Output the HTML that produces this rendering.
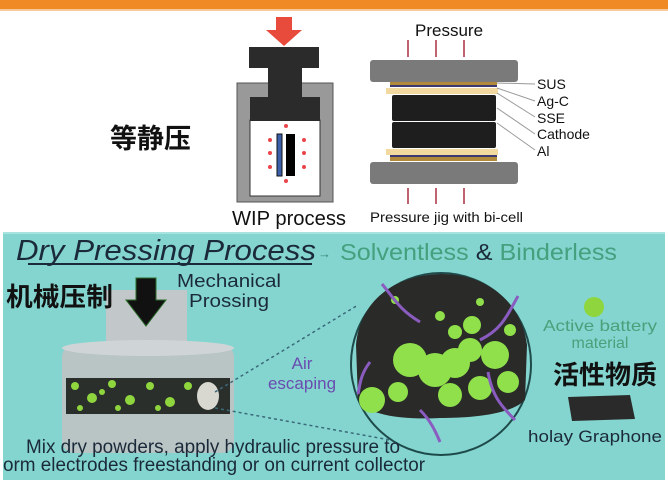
<!DOCTYPE html>
<html><head><meta charset="utf-8"><style>
body{margin:0;width:668px;height:482px;overflow:hidden;background:#fff}
svg{display:block}
text{font-family:"Liberation Sans","Noto Sans CJK SC",sans-serif}
</style></head><body>
<svg width="668" height="482" viewBox="0 0 668 482" xmlns="http://www.w3.org/2000/svg">
<rect x="0" y="0" width="668" height="9" fill="#f08a24"/>
<rect x="0" y="9" width="668" height="2" fill="#f7c89a"/>
<text x="110" y="148" font-size="27" font-weight="bold" fill="#111">等静压</text>
<!-- WIP -->
<polygon points="276,17 292,17 292,30 302,30 284,46 266,30 276,30" fill="#e84a3c"/>
<rect x="237" y="83" width="96" height="119" fill="#999" stroke="#555" stroke-width="1"/>
<rect x="250" y="120" width="70" height="76" fill="#fff" stroke="#333" stroke-width="1"/>
<rect x="249" y="47" width="70" height="21" fill="#2b2b2b"/>
<rect x="268" y="68" width="34" height="30" fill="#2b2b2b"/>
<rect x="250" y="97" width="70" height="24" fill="#2b2b2b"/>
<rect x="277" y="134" width="5" height="42" fill="#3b5fa8" stroke="#111"/>
<rect x="286" y="134" width="9" height="42" fill="#000"/>
<g fill="#e8464a"><circle cx="270" cy="140" r="2"/><circle cx="270" cy="153" r="2"/><circle cx="270" cy="167" r="2"/><circle cx="304" cy="140" r="2"/><circle cx="304" cy="153" r="2"/><circle cx="304" cy="167" r="2"/><circle cx="286" cy="126" r="2"/><circle cx="286" cy="181" r="2"/></g>
<text x="232" y="225" font-size="20" fill="#111" textLength="114" lengthAdjust="spacingAndGlyphs">WIP process</text>
<!-- jig -->
<text x="415" y="36" font-size="17" fill="#111">Pressure</text>
<g stroke="#a83040" stroke-width="1.5">
<line x1="408" y1="40" x2="408" y2="57"/><line x1="436" y1="40" x2="436" y2="57"/><line x1="464" y1="40" x2="464" y2="57"/>
<line x1="408" y1="204" x2="408" y2="188"/><line x1="436" y1="204" x2="436" y2="188"/><line x1="464" y1="204" x2="464" y2="188"/>
</g>
<rect x="370" y="60" width="148" height="22" rx="3" fill="#7a7a7a"/>
<rect x="370" y="162" width="148" height="22" rx="3" fill="#7a7a7a"/>
<rect x="390" y="82" width="107" height="3" fill="#b08a3a"/>
<rect x="390" y="85" width="107" height="2" fill="#3a3a70"/>
<rect x="386" y="88" width="112" height="6" fill="#f1d9a0"/>
<rect x="392" y="95" width="104" height="26" rx="2" fill="#1e1e1e"/>
<rect x="392" y="122" width="104" height="26" rx="2" fill="#1e1e1e"/>
<rect x="386" y="149" width="112" height="6" fill="#f1d9a0"/>
<rect x="390" y="155" width="107" height="2" fill="#3a3a70"/>
<rect x="390" y="157" width="107" height="4" fill="#b08a3a"/>
<g stroke="#999" stroke-width="1">
<line x1="497" y1="83" x2="535" y2="84"/><line x1="497" y1="88" x2="535" y2="101"/><line x1="497" y1="93" x2="535" y2="117"/><line x1="497" y1="108" x2="535" y2="134"/><line x1="497" y1="123" x2="535" y2="150"/>
</g>
<g font-size="14" fill="#111"><text x="537" y="89">SUS</text><text x="537" y="106">Ag-C</text><text x="537" y="123">SSE</text><text x="537" y="139">Cathode</text><text x="537" y="156">Al</text></g>
<text x="370" y="222" font-size="14" fill="#111" textLength="153" lengthAdjust="spacingAndGlyphs">Pressure jig with bi-cell</text>
<!-- bottom teal -->
<rect x="3" y="232" width="662" height="248" fill="#84d5d0"/>
<rect x="3" y="232" width="662" height="2" fill="#a8e3df"/>
<text x="16" y="260" font-size="29" font-style="italic" fill="#1b2a3a" textLength="300" lengthAdjust="spacingAndGlyphs">Dry Pressing Process</text>
<line x1="28" y1="264" x2="312" y2="264" stroke="#1b2a3a" stroke-width="2"/>
<text x="318" y="258" font-size="13" fill="#3a8a7a">→</text>
<text x="340" y="260" font-size="23" fill="#45a07e" textLength="277" lengthAdjust="spacingAndGlyphs">Solventless <tspan fill="#1b2a3a">&amp;</tspan> Binderless</text>
<!-- press -->
<rect x="106" y="290" width="81" height="60" fill="#c2c8c9"/>
<rect x="62" y="345" width="172" height="108" rx="12" fill="#b9c4c4"/>
<ellipse cx="148" cy="348" rx="86" ry="8" fill="#cfd5d6"/>
<rect x="66" y="378" width="164" height="36" fill="#2b2f2c"/>
<g fill="#8fd63e">
<circle cx="75" cy="386" r="4"/><circle cx="92" cy="398" r="5"/><circle cx="112" cy="384" r="4"/><circle cx="130" cy="400" r="5"/><circle cx="150" cy="386" r="4"/><circle cx="170" cy="402" r="5"/><circle cx="188" cy="386" r="4"/><circle cx="80" cy="408" r="3"/><circle cx="118" cy="408" r="3"/><circle cx="158" cy="408" r="3"/><circle cx="102" cy="392" r="3"/></g>
<ellipse cx="208" cy="396" rx="11" ry="14" fill="#d8d8d0"/>
<polygon points="136,278 156,278 156,300 166,300 146,326 126,300 136,300" fill="#111" stroke="#2a6a2a"/>
<text x="6" y="306" font-size="26" font-weight="bold" fill="#111" textLength="107" lengthAdjust="spacingAndGlyphs">机械压制</text>
<text x="177" y="287" font-size="18" fill="#1b2a3a" textLength="104" lengthAdjust="spacingAndGlyphs">Mechanical</text>
<text x="189" y="307" font-size="18" fill="#1b2a3a" textLength="80" lengthAdjust="spacingAndGlyphs">Prossing</text>
<g stroke="#3a6a7a" stroke-width="1.5" stroke-dasharray="3,3"><line x1="215" y1="392" x2="358" y2="305"/><line x1="215" y1="408" x2="390" y2="440"/></g>
<!-- circle -->
<ellipse cx="441" cy="364" rx="90" ry="91" fill="none" stroke="#1e4a4a" stroke-width="2"/>
<path d="M356,345 C360,300 395,275 441,274 C490,274 522,305 527,345 L525,400 C510,415 470,418 440,418 C400,420 368,415 358,400 Z" fill="#2a2a28"/>
<g fill="#8fe04a">
<circle cx="410" cy="360" r="17"/><circle cx="435" cy="370" r="17"/><circle cx="455" cy="363" r="15"/><circle cx="470" cy="350" r="12"/><circle cx="495" cy="355" r="14"/><circle cx="372" cy="400" r="13"/><circle cx="450" cy="395" r="12"/><circle cx="480" cy="388" r="12"/><circle cx="508" cy="382" r="11"/><circle cx="398" cy="392" r="10"/><circle cx="472" cy="325" r="9"/><circle cx="455" cy="332" r="7"/><circle cx="440" cy="316" r="5"/><circle cx="395" cy="300" r="4"/><circle cx="480" cy="302" r="4"/><circle cx="510" cy="330" r="6"/></g>
<g stroke="#8a5cc0" stroke-width="3" fill="none">
<path d="M382,284 C395,300 400,310 420,322"/><path d="M518,296 C505,320 500,330 480,340"/><path d="M370,362 C360,375 360,385 358,394"/><path d="M420,410 C430,420 435,430 440,442"/><path d="M488,372 C492,395 500,405 515,420"/></g>
<text x="302" y="369" font-size="17" fill="#6a4cb0" text-anchor="middle">Air</text>
<text x="302" y="389" font-size="17" fill="#6a4cb0" text-anchor="middle">escaping</text>
<!-- right legend -->
<circle cx="594" cy="307" r="10" fill="#8fd63e"/>
<text x="543" y="331" font-size="16" fill="#4aa07a" textLength="114" lengthAdjust="spacingAndGlyphs">Active battery</text>
<text x="600" y="348" font-size="16" fill="#4aa07a" text-anchor="middle">material</text>
<text x="553" y="384" font-size="26" font-weight="bold" fill="#111" textLength="104" lengthAdjust="spacingAndGlyphs">活性物质</text>
<polygon points="568,397 630,395 635,419 572,421" fill="#2a2a2a"/>
<text x="528" y="442" font-size="17" fill="#1b2a3a" textLength="134" lengthAdjust="spacingAndGlyphs">holay Graphone</text>
<text x="26" y="453" font-size="19" fill="#1b2a3a" textLength="374" lengthAdjust="spacingAndGlyphs">Mix dry powders, apply hydraulic pressure to</text>
<text x="3" y="471" font-size="19" fill="#1b2a3a" textLength="422" lengthAdjust="spacingAndGlyphs">orm electrodes freestanding or on current collector</text>
</svg>
</body></html>
